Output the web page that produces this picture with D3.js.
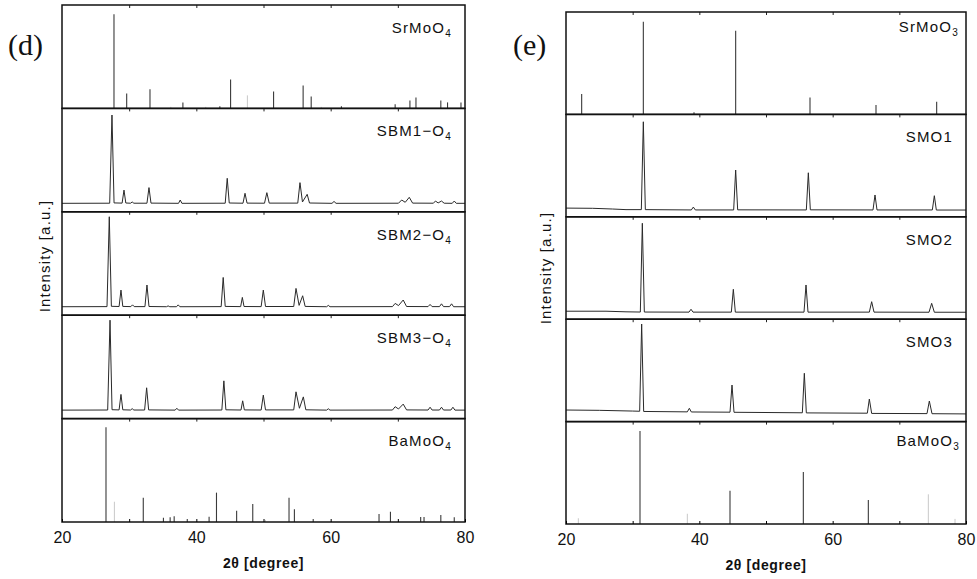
<!DOCTYPE html>
<html>
<head>
<meta charset="utf-8">
<script src="https://cdn.jsdelivr.net/npm/d3@7"></script>
<style>
  body { margin: 0; background: #fff; }
  svg { display: block; }
  text { font-family: "Liberation Sans", Arial, sans-serif; fill: #111; }
</style>
</head>
<body>
<div class="chart"></div>
<script>
// x axis
const xDomain = [20, 80];
const xTicks = [20, 30, 40, 50, 60, 70, 80];
const xTickLabels = [20, 40, 60, 80];

// intensities are in % of the sub-panel height, [2theta, I]
// (d) reference patterns
const srMoO4Peaks = [[27.74, 91], [29.63, 14.5], [33.1, 18.4], [38.0, 5.8], [43.5, 2], [45.1, 28],
  [51.5, 16.4], [55.9, 22.2], [57.1, 11.6], [61.6, 2], [69.6, 4], [71.8, 7.7], [72.7, 10.6],
  [76.4, 7.7], [77.4, 5.8], [79.4, 5.8]];
const srMoO4Weak = [[47.6, 12.6], [36.2, 1.5], [41.4, 1.5], [58.6, 1.5]];

const baMoO4Peaks = [[26.55, 91.6], [32.1, 23.5], [35.1, 4], [36.1, 4.5], [36.7, 5.5], [38.65, 3],
  [41.9, 5], [43.0, 28.4], [46.0, 11], [48.4, 17.4], [53.8, 23.5], [54.6, 12.3], [57.4, 3],
  [67.2, 7.7], [68.9, 10], [73.4, 4.8], [73.9, 4.8], [76.4, 6.8], [78.4, 4.5]];
const baMoO4Weak = [[27.8, 19.6], [50.3, 2]];

// (d) measured patterns
const sbm1Trace = [[20, 8.2], [27.1, 8.3], [27.44, 93.6], [27.75, 8.6], [28.95, 8.4], [29.23, 21],
  [29.5, 8.5], [30.2, 8.3], [30.45, 9.5], [30.7, 8.3], [32.65, 8.3], [32.95, 23.4], [33.25, 8.4],
  [37.35, 8.2], [37.6, 11.4], [37.85, 8.2], [44.3, 8.3], [44.6, 32.4], [44.9, 8.5], [46.95, 8.3],
  [47.25, 17.9], [47.55, 8.4], [50.15, 8.3], [50.5, 18.5], [50.85, 8.4], [55.1, 8.4], [55.43, 28.2],
  [55.8, 9.5], [56.5, 16.9], [56.85, 8.5], [60.2, 8.2], [60.5, 10], [60.8, 8.2], [70.1, 8.3],
  [70.57, 11.4], [71.1, 9.2], [71.7, 14], [72.2, 8.4], [75.3, 8.3], [75.6, 10.4], [76, 8.6],
  [76.5, 10.4], [76.9, 8.3], [78.1, 8.2], [78.4, 10.4], [78.7, 8.2], [80, 8.2]];
const sbm2Trace = [[20, 8.2], [26.7, 8.3], [27.04, 95.2], [27.35, 8.6], [28.5, 8.4], [28.78, 24.3],
  [29.05, 8.5], [30.25, 8.3], [30.5, 10], [30.75, 8.3], [32.35, 8.3], [32.65, 29.2], [32.95, 8.4],
  [35.55, 8.2], [35.8, 9], [36.05, 8.2], [37.05, 8.2], [37.3, 10], [37.55, 8.2], [43.7, 8.3],
  [44.0, 36.5], [44.3, 8.5], [46.6, 8.3], [46.85, 17.2], [47.1, 8.4], [49.65, 8.3], [49.97, 24.3],
  [50.3, 8.4], [54.5, 8.4], [54.84, 25.9], [55.3, 9.5], [55.83, 18.8], [56.2, 8.5], [59.4, 8.2],
  [59.65, 9.5], [59.9, 8.2], [69.2, 8.3], [69.6, 11.4], [70.1, 9.3], [70.8, 14.7], [71.3, 8.4],
  [74.5, 8.3], [74.8, 10.4], [75.1, 8.3], [76.2, 8.3], [76.5, 11], [76.8, 8.3], [77.7, 8.3],
  [78.0, 11], [78.3, 8.2], [80, 8.2]];
const sbm3Trace = [[20, 8.2], [26.8, 8.3], [27.15, 95.2], [27.45, 8.6], [28.5, 8.4], [28.78, 23.4],
  [29.05, 8.5], [30.2, 8.3], [30.45, 9.6], [30.7, 8.3], [32.3, 8.3], [32.6, 29.8], [32.9, 8.4],
  [36.85, 8.2], [37.1, 10], [37.35, 8.2], [43.8, 8.3], [44.1, 36.5], [44.4, 8.5], [46.65, 8.3],
  [46.9, 17.2], [47.15, 8.4], [49.65, 8.3], [49.97, 22.7], [50.3, 8.4], [54.5, 8.4], [54.84, 25.9],
  [55.35, 10], [55.93, 21], [56.3, 8.5], [59.4, 8.2], [59.65, 9.5], [59.9, 8.2], [69.2, 8.3],
  [69.6, 11.5], [70.1, 9.3], [70.8, 14], [71.3, 8.4], [74.5, 8.3], [74.8, 11], [75.1, 8.3],
  [76.2, 8.3], [76.5, 11], [76.8, 8.3], [77.9, 8.3], [78.2, 11], [78.5, 8.2], [80, 8.2]];

// (e) reference patterns
const srMoO3Peaks = [[22.35, 19.9], [31.6, 90.5], [39.2, 2], [45.45, 81.7], [56.6, 16.6],
  [66.5, 9.2], [75.6, 12.4]];
const baMoO3Peaks = [[31.1, 90.8], [44.6, 32.5], [55.6, 50.8], [65.35, 23.4]];
const baMoO3Weak = [[21.85, 5.6], [38.2, 10], [74.35, 29], [78.35, 5]];

// (e) measured patterns
const smo1Trace = [[20, 8.5], [24, 8.3], [27, 7.6], [29, 7], [31.3, 7], [31.6, 92.8], [31.9, 7],
  [38.8, 6.7], [39.1, 9.5], [39.4, 6.7], [45.15, 6.7], [45.45, 45.7], [45.75, 6.8], [56.05, 6.7],
  [56.35, 43], [56.65, 6.8], [66.05, 6.7], [66.35, 21.3], [66.65, 6.7], [74.95, 6.7],
  [75.25, 20.6], [75.55, 6.6], [80, 6.6]];
const smo2Trace = [[20, 7.8], [26, 7.8], [29, 7.2], [31.15, 7], [31.45, 93.7], [31.75, 7],
  [38.45, 6.9], [38.75, 9.7], [39.05, 6.9], [44.8, 6.9], [45.1, 29.2], [45.4, 6.9], [55.7, 6.9],
  [56.0, 33.4], [56.3, 6.9], [65.5, 6.9], [65.85, 17.1], [66.2, 6.9], [74.45, 6.8], [74.85, 15.5],
  [75.25, 6.8], [80, 6.8]];
const smo3Trace = [[20, 11.3], [25, 11], [30, 10.3], [31.05, 10.1], [31.35, 95.3], [31.65, 9.9],
  [38.2, 9.5], [38.5, 13], [38.8, 9.4], [44.6, 9.2], [44.9, 35.7], [45.2, 9.1], [55.45, 8.6],
  [55.75, 47.2], [56.05, 8.5], [65.2, 8.2], [65.5, 22], [65.85, 8], [74.15, 7.8], [74.5, 20.1],
  [74.9, 7.7], [80, 7.5]];

const panelNamesD = [["SrMoO", "4"], ["SBM1\u2212O", "4"], ["SBM2\u2212O", "4"], ["SBM3\u2212O", "4"], ["BaMoO", "4"]];
const panelNamesE = [["SrMoO", "3"], ["SMO1", ""], ["SMO2", ""], ["SMO3", ""], ["BaMoO", "3"]];

let svg = d3.select(".chart")
    .append("svg")
        .attr("width", 977)
        .attr("height", 579);

let drawChart = (cfg) => {
    let g = svg.append("g")
        .attr("transform", `translate(${cfg.left}, ${cfg.top})`);

    let xScale = d3.scaleLinear()
        .domain(xDomain)
        .range([0, cfg.width]);

    let ph = cfg.height / cfg.panels.length;
    let yScale = d3.scaleLinear()
        .domain([0, 100])
        .range([ph, 0]);

    let line = d3.line()
        .x(d => xScale(d[0]))
        .y(d => yScale(d[1]));

    cfg.panels.forEach((p, i) => {
        let pg = g.append("g")
            .attr("transform", `translate(0, ${i * ph})`);

        if (p.trace) {
            pg.append("path")
                .datum(p.trace)
                .attr("d", line)
                .attr("fill", "none")
                .attr("stroke", "#2a2a2a")
                .attr("stroke-width", 1);
        }
        pg.selectAll("line.weak")
            .data(p.weak || [])
            .enter()
            .append("line")
            .attr("class", "weak")
            .attr("x1", d => xScale(d[0]))
            .attr("x2", d => xScale(d[0]))
            .attr("y1", yScale(0))
            .attr("y2", d => yScale(d[1]))
            .attr("stroke", "#c8c8c8")
            .attr("stroke-width", 1);
        pg.selectAll("line.stick")
            .data(p.sticks || [])
            .enter()
            .append("line")
            .attr("class", "stick")
            .attr("x1", d => xScale(d[0]))
            .attr("x2", d => xScale(d[0]))
            .attr("y1", yScale(0))
            .attr("y2", d => yScale(d[1]))
            .attr("stroke", "#3a3a3a")
            .attr("stroke-width", 1.1);

        // inward ticks on top of each panel
        pg.append("g")
            .call(d3.axisTop(xScale).tickValues(xTicks.slice(1, -1)).tickSize(-3).tickFormat(""))
            .call(a => a.select(".domain").remove())
            .selectAll("line").attr("stroke", "#222");

        pg.append("rect")
            .attr("width", cfg.width)
            .attr("height", ph)
            .attr("fill", "none")
            .attr("stroke", "#111")
            .attr("stroke-width", 1.5);

        let t = pg.append("text")
            .attr("x", cfg.width - p.labelDx)
            .attr("y", p.labelDy)
            .attr("text-anchor", "end")
            .style("font-size", "15px")
            .style("letter-spacing", "1.2px");
        t.append("tspan").text(p.name[0]);
        if (p.name[1]) {
            t.append("tspan")
                .attr("dy", 4)
                .style("font-size", "10px")
                .text(p.name[1]);
        }
    });

    // bottom axis
    let xAxis = d3.axisBottom(xScale)
        .tickValues(xTicks)
        .tickSize(-3)
        .tickPadding(10)
        .tickFormat(d => xTickLabels.includes(d) ? d : "");
    g.append("g")
        .attr("transform", `translate(0, ${cfg.height})`)
        .call(xAxis)
        .call(a => a.select(".domain").remove())
        .selectAll("text")
            .style("font-size", "16px")
            .attr("fill", "#111");

    g.append("text")
        .attr("x", cfg.width / 2)
        .attr("y", cfg.height + 46)
        .attr("text-anchor", "middle")
        .style("font-size", "14px")
        .style("font-weight", "bold")
        .style("letter-spacing", "0.6px")
        .text("2\u03b8 [degree]");

    g.append("text")
        .attr("transform", `translate(${cfg.yLabelX}, ${cfg.yLabelY}) rotate(-90)`)
        .attr("text-anchor", "middle")
        .style("font-size", "15px")
        .style("letter-spacing", "1.2px")
        .text("Intensity [a.u.]");

    svg.append("text")
        .attr("x", cfg.letterX)
        .attr("y", 55)
        .style("font-family", "'Liberation Serif', 'Times New Roman', serif")
        .style("font-size", "30px")
        .text(cfg.letter);
};

drawChart({
    left: 62, top: 5, width: 403, height: 517,
    letter: "(d)", letterX: 8,
    yLabelX: -12, yLabelY: 251,
    panels: [
        { name: panelNamesD[0], sticks: srMoO4Peaks, weak: srMoO4Weak, labelDx: 13, labelDy: 28 },
        { name: panelNamesD[1], trace: sbm1Trace, labelDx: 13, labelDy: 28 },
        { name: panelNamesD[2], trace: sbm2Trace, labelDx: 13, labelDy: 28 },
        { name: panelNamesD[3], trace: sbm3Trace, labelDx: 13, labelDy: 28 },
        { name: panelNamesD[4], sticks: baMoO4Peaks, weak: baMoO4Weak, labelDx: 13, labelDy: 27 }
    ]
});

drawChart({
    left: 566, top: 12, width: 400, height: 512,
    letter: "(e)", letterX: 513,
    yLabelX: -15, yLabelY: 256,
    panels: [
        { name: panelNamesE[0], sticks: srMoO3Peaks, labelDx: 7, labelDy: 20 },
        { name: panelNamesE[1], trace: smo1Trace, labelDx: 13, labelDy: 28 },
        { name: panelNamesE[2], trace: smo2Trace, labelDx: 13, labelDy: 28 },
        { name: panelNamesE[3], trace: smo3Trace, labelDx: 13, labelDy: 28 },
        { name: panelNamesE[4], sticks: baMoO3Peaks, weak: baMoO3Weak, labelDx: 6, labelDy: 24 }
    ]
});
</script>
</body>
</html>
